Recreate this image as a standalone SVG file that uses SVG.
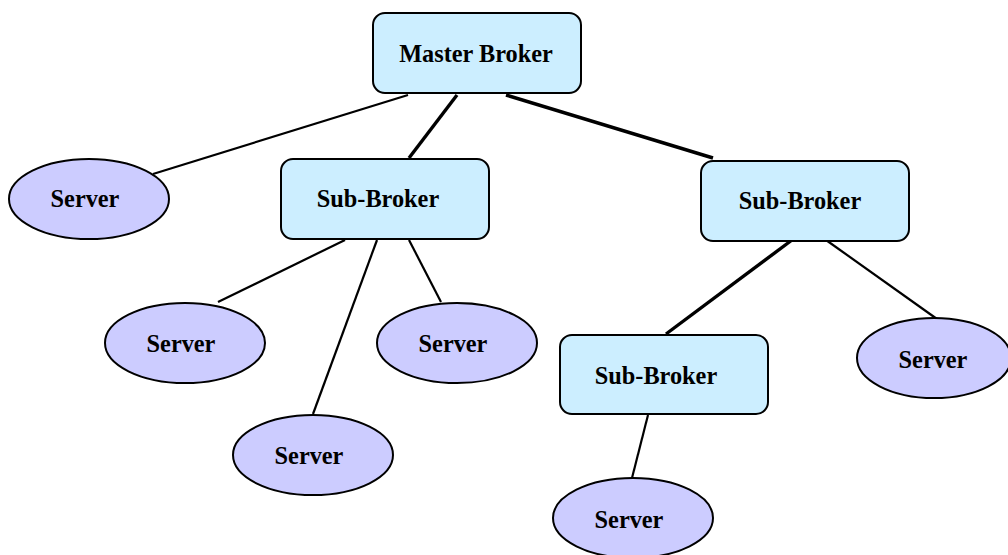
<svg xmlns="http://www.w3.org/2000/svg" width="1008" height="555" viewBox="0 0 1008 555">
<style>
.box{fill:#CCEEFF;stroke:#000;stroke-width:2}
.srv{fill:#CCCCFF;stroke:#000;stroke-width:2}
.lbl{font-family:"Liberation Serif","Times New Roman",serif;font-weight:bold;font-size:24.3px;fill:#000;text-anchor:middle}
.c{stroke:#000;stroke-width:2.2;fill:none}
.t{stroke:#000;stroke-width:3.4;fill:none}
</style>
<rect width="1008" height="555" fill="#fff"/>
<g id="connectors">
<line class="c" x1="408" y1="95" x2="153" y2="174"/>
<line class="t" x1="457" y1="95" x2="409" y2="158"/>
<line class="t" x1="506" y1="95" x2="713" y2="158"/>
<line class="c" x1="345" y1="240" x2="218" y2="302"/>
<line class="c" x1="377" y1="240" x2="313" y2="414"/>
<line class="c" x1="409" y1="240" x2="441" y2="302"/>
<line class="t" x1="792" y1="240" x2="666" y2="334"/>
<line class="c" x1="826" y1="240" x2="937" y2="319"/>
<line class="c" x1="648" y1="415" x2="632" y2="478"/>
</g>
<g id="master"><rect class="box" x="373" y="13" width="208" height="80" rx="12"/><text class="lbl" x="476" y="62">Master Broker</text></g>
<g id="sub1"><rect class="box" x="281" y="159" width="208" height="80" rx="12"/><text class="lbl" x="378" y="207">Sub-Broker</text></g>
<g id="sub2"><rect class="box" x="701" y="161" width="208" height="80" rx="12"/><text class="lbl" x="800" y="209">Sub-Broker</text></g>
<g id="sub3"><rect class="box" x="560" y="335" width="208" height="79" rx="12"/><text class="lbl" x="656" y="384">Sub-Broker</text></g>
<g id="server1"><ellipse class="srv" cx="89" cy="199" rx="80" ry="40"/><text class="lbl" x="85" y="207">Server</text></g>
<g id="server2"><ellipse class="srv" cx="185" cy="343" rx="80" ry="40"/><text class="lbl" x="181" y="352">Server</text></g>
<g id="server3"><ellipse class="srv" cx="457" cy="343" rx="80" ry="40"/><text class="lbl" x="453" y="352">Server</text></g>
<g id="server4"><ellipse class="srv" cx="313" cy="455" rx="80" ry="40"/><text class="lbl" x="309" y="464">Server</text></g>
<g id="server5"><ellipse class="srv" cx="934" cy="358" rx="77" ry="40"/><text class="lbl" x="933" y="368">Server</text></g>
<g id="server6"><ellipse class="srv" cx="633" cy="518" rx="80" ry="40"/><text class="lbl" x="629" y="528">Server</text></g>
</svg>
